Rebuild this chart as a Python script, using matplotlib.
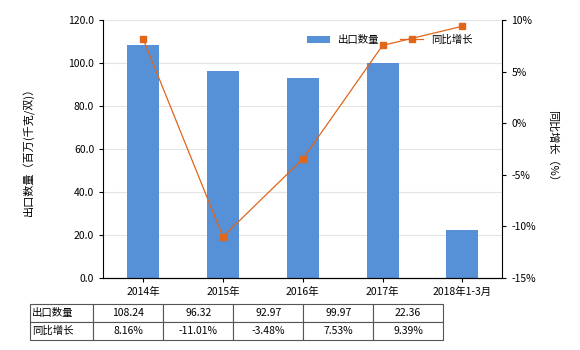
import matplotlib
matplotlib.use("Agg")
import matplotlib.pyplot as plt

plt.rcParams['font.family'] = ['Noto Sans CJK SC', 'DejaVu Sans']

categories = ["2014年", "2015年", "2016年", "2017年", "2018年1-3月"]
export_qty = [108.24, 96.32, 92.97, 99.97, 22.36]
yoy_growth = [8.16, -11.01, -3.48, 7.53, 9.39]
qty_labels = ["108.24", "96.32", "92.97", "99.97", "22.36"]
yoy_labels = ["8.16%", "-11.01%", "-3.48%", "7.53%", "9.39%"]

bar_color = "#5690D6"
line_color = "#E0661A"
fs = 7.5

fig = plt.figure(figsize=(5.8, 3.5), dpi=100)
ax = fig.add_axes([0.178, 0.206, 0.688, 0.737])
x = list(range(len(categories)))

ax.bar(x, export_qty, width=0.4, color=bar_color, label="出口数量", zorder=2)
ax.set_xlim(-0.5, len(categories) - 0.5)
ax.set_ylim(0, 120)
ax.set_yticks([0, 20, 40, 60, 80, 100, 120])
ax.set_yticklabels([f"{v:.1f}" for v in [0, 20, 40, 60, 80, 100, 120]], fontsize=fs)
ax.set_xticks(x)
ax.set_xticklabels(categories, fontsize=fs)
ax.grid(axis="y", color="#e4e4e4", lw=0.8, zorder=0)
ax.set_ylabel("出口数量（百万(千克/双)）", fontsize=8, labelpad=24)
for s in ["top", "right"]:
    ax.spines[s].set_visible(False)
ax.tick_params(length=3, width=0.8)

ax2 = ax.twinx()
ax2.plot(x, yoy_growth, "-s", color=line_color, lw=0.9, ms=4, label="同比增长", zorder=3)
ax2.set_ylim(-15, 10)
ax2.set_yticks([-15, -10, -5, 0, 5, 10])
ax2.set_yticklabels([f"{v}%" for v in [-15, -10, -5, 0, 5, 10]], fontsize=fs)
ax2.set_ylabel("同比增长（%）", fontsize=8, rotation=270, labelpad=16)
for s in ["top", "left"]:
    ax2.spines[s].set_visible(False)
ax2.tick_params(length=3, width=0.8)

h1, l1 = ax.get_legend_handles_labels()
h2, l2 = ax2.get_legend_handles_labels()
ax2.legend(h1 + h2, l1 + l2, loc="upper right", bbox_to_anchor=(0.95, 0.98), ncol=2,
           frameon=False, fontsize=fs, handlelength=2.2, columnspacing=2.0)

# data table below the chart
tab_ax = fig.add_axes([0.052, 0.029, 0.712, 0.102])
tab_ax.axis("off")
cells = [["出口数量"] + qty_labels, ["同比增长"] + yoy_labels]
first_w = 63 / 413
other_w = 70 / 413
tbl = tab_ax.table(cellText=cells, colWidths=[first_w] + [other_w] * 5,
                   bbox=[0, 0, 1, 1], cellLoc="center")
tbl.auto_set_font_size(False)
for (r, c), cell in tbl.get_celld().items():
    cell.set_fontsize(fs)
    cell.set_edgecolor("#555555")
    cell.set_linewidth(0.8)
    if c == 0:
        cell.set_text_props(ha="left")
        cell.PAD = 0.03

fig.savefig("out.png", dpi=100)
